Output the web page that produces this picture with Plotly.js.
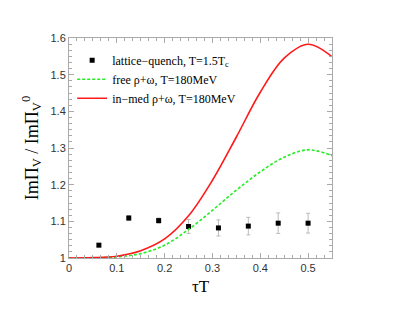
<!DOCTYPE html>
<html>
<head>
<meta charset="utf-8">
<script src="https://cdn.plot.ly/plotly-3.0.1.min.js"></script>
<style>html,body{margin:0;padding:0;background:#fff;}#chart{width:402px;height:311px;}</style>
</head>
<body>
<div id="chart"></div>
<script>
// Lattice data
const latticeTau = [0.0625, 0.125, 0.1875, 0.25, 0.3125, 0.375, 0.4375, 0.5];
const latticeVal = [1.035, 1.109, 1.102, 1.086, 1.082, 1.087, 1.095, 1.095];
const latticeErr = [0.004, 0.007, 0.007, 0.019, 0.022, 0.024, 0.028, 0.027];

// Model curves
const curveTau = [0, 0.05, 0.1, 0.15, 0.2, 0.25, 0.3, 0.35, 0.4, 0.45, 0.5, 0.55];
const freeVal  = [1.0, 1.0005, 1.003, 1.012, 1.035, 1.078, 1.130, 1.185, 1.235, 1.275, 1.295, 1.279];
const inmedVal = [1.0, 1.001, 1.005, 1.020, 1.052, 1.115, 1.212, 1.330, 1.452, 1.545, 1.583, 1.549];

const legendNames = ["lattice\u2212quench, T=1.5T<sub>c</sub>", "free \u03c1+\u03c9, T=180MeV", "in\u2212med \u03c1+\u03c9, T=180MeV"];

const serif = "Liberation Serif, Times New Roman, serif";
const sans = "Liberation Sans, Arial, sans-serif";

const traces = [
  {x: latticeTau, y: latticeVal, type: 'scatter', mode: 'markers', name: legendNames[0],
   marker: {symbol: 'square', size: 5, color: '#000'},
   error_y: {type: 'data', array: latticeErr, visible: true, color: '#bbbbbb', thickness: 1, width: 2}},
  {x: curveTau, y: freeVal, type: 'scatter', mode: 'lines', name: legendNames[1],
   line: {color: '#22ee22', width: 1.6, dash: '3px,2px', shape: 'spline'}},
  {x: curveTau, y: inmedVal, type: 'scatter', mode: 'lines', name: legendNames[2],
   line: {color: '#ff1a1a', width: 1.6, shape: 'spline'}}
];

const axisCommon = {
  showline: true, linecolor: '#aaaaaa', linewidth: 1, mirror: 'ticks',
  ticks: 'inside', ticklen: 5, tickcolor: '#aaaaaa', tickwidth: 1,
  showgrid: false, zeroline: false,
  tickfont: {family: sans, size: 11, color: '#333'},
};

const layout = {
  width: 402, height: 311,
  margin: {l: 69, r: 70, t: 38, b: 53},
  paper_bgcolor: '#fff', plot_bgcolor: '#fff',
  showlegend: true,
  legend: {x: 0.012, y: 0.965, xanchor: 'left', yanchor: 'top', bgcolor: 'rgba(0,0,0,0)',
           font: {family: serif, size: 12, color: '#000'}, tracegroupgap: 0, itemwidth: 30},
  xaxis: Object.assign({}, axisCommon, {
    range: [0, 0.55], tickvals: [0, 0.1, 0.2, 0.3, 0.4, 0.5], ticktext: ['0', '0.1', '0.2', '0.3', '0.4', '0.5'],
    minor: {dtick: 0.1/6, ticks: 'inside', ticklen: 3, tickcolor: '#aaaaaa', showgrid: false},
    title: {text: '\u03c4T', font: {family: serif, size: 17, color: '#000'}, standoff: 6}
  }),
  yaxis: Object.assign({}, axisCommon, {
    range: [1, 1.6], tickvals: [1, 1.1, 1.2, 1.3, 1.4, 1.5, 1.6], ticktext: ['1', '1.1', '1.2', '1.3', '1.4', '1.5', '1.6'],
    minor: {dtick: 0.1/6, tick0: 1, ticks: 'inside', ticklen: 3, tickcolor: '#aaaaaa', showgrid: false},
    title: {text: 'ImΠ<sub>V</sub> / ImΠ<sub>V</sub><sup>0</sup>', font: {family: serif, size: 18, color: '#000'}, standoff: 7}
  })
};

Plotly.newPlot('chart', traces, layout, {displayModeBar: false, staticPlot: true});
</script>
</body>
</html>
